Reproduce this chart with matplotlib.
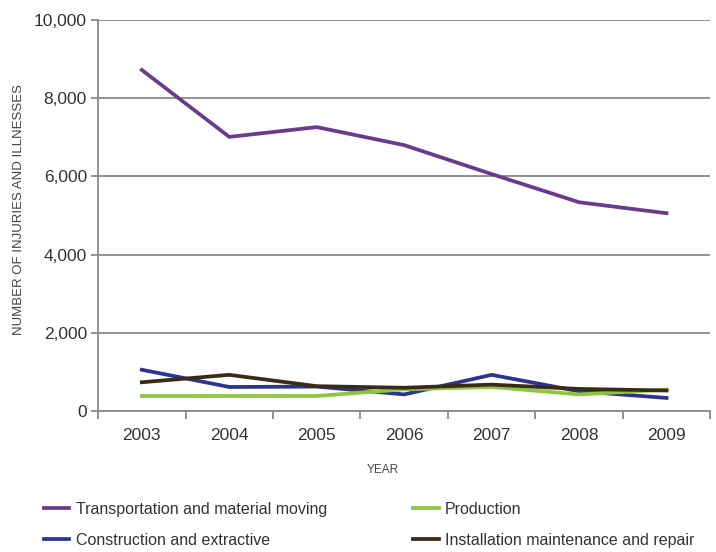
import matplotlib.pyplot as plt
from matplotlib.ticker import FuncFormatter

plt.rcParams['font.family'] = ['Liberation Sans', 'DejaVu Sans']

# дані з графіка
years = ['2003', '2004', '2005', '2006', '2007', '2008', '2009']
transportation = [8720, 7010, 7260, 6800, 6060, 5340, 5060]
construction = [1060, 620, 630, 430, 930, 510, 340]
production = [390, 390, 390, 560, 620, 430, 550]
installation = [740, 930, 640, 600, 680, 570, 530]

fig = plt.figure(figsize=(7.16, 5.52), dpi=100)
ax = fig.add_axes([0.137, 0.255, 0.855, 0.709])

x = range(len(years))
ax.plot(x, transportation, color='#6a3a8e', lw=2.7, label='Transportation and material moving')
ax.plot(x, construction, color='#2b3590', lw=2.7, label='Construction and extractive')
ax.plot(x, production, color='#8dc63f', lw=2.7, label='Production')
ax.plot(x, installation, color='#3b2a17', lw=2.7, label='Installation maintenance and repair')

ax.set_xlim(-0.5, len(years) - 0.5)
ax.set_ylim(0, 10000)
ax.set_yticks(range(0, 10001, 2000))
ax.yaxis.set_major_formatter(FuncFormatter(lambda v, p: f'{int(v):,}'))
ax.grid(axis='y', color='#8a8a8a', lw=1.3)
ax.set_axisbelow(True)

ax.set_xticks(list(x))
ax.set_xticklabels(years)
ax.set_xticks([i - 0.5 for i in range(len(years) + 1)], minor=True)
ax.tick_params(axis='x', which='major', length=0, pad=12, labelsize=12.5, colors='#333333')
ax.tick_params(axis='x', which='minor', length=6, width=1.3, color='#8a8a8a')
ax.tick_params(axis='y', length=5, width=1.3, color='#8a8a8a', labelsize=12.5, labelcolor='#333333', pad=3)

for s in ['top', 'right']:
    ax.spines[s].set_visible(False)
for s in ['left', 'bottom']:
    ax.spines[s].set_color('#8a8a8a')
    ax.spines[s].set_linewidth(1.3)

fig.text(0.535, 0.148, 'YEAR', ha='center', va='center', fontsize=8.5, color='#444444')
fig.text(0.026, 0.62, 'NUMBER OF INJURIES AND ILLNESSES', rotation=90, ha='center', va='center',
         fontsize=9.5, color='#444444')

fig.legend(loc='upper left', bbox_to_anchor=(0.052, 0.102), ncol=2, frameon=False,
           fontsize=11.5, handlelength=1.6, columnspacing=5.4, labelspacing=1.0,
           handletextpad=0.4, borderaxespad=0, labelcolor='#333333')

plt.savefig('out.png', dpi=100)
